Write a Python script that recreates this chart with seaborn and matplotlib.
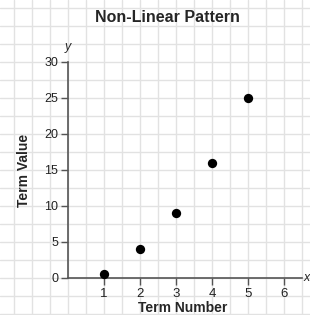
import numpy as np
import pandas as pd
import matplotlib

matplotlib.use("Agg")
import matplotlib.pyplot as plt
import seaborn as sns

# data
term_number = [1, 2, 3, 4, 5]
term_value = [0.5, 4, 9, 16, 25]
x_ticks = [1, 2, 3, 4, 5, 6]
y_ticks = [0, 5, 10, 15, 20, 25, 30]

sns.set_style("white")
plt.rcParams["font.family"] = ["Liberation Sans", "DejaVu Sans"]

W, H = 310, 315
fig = plt.figure(figsize=(W / 100, H / 100), dpi=100)

# graph-paper background over the whole figure (pixel coordinates)
bg = fig.add_axes([0, 0, 1, 1], zorder=0)
bg.set_xlim(0, W)
bg.set_ylim(H, 0)
bg.set_xticks(np.arange(14, W, 18))
bg.set_yticks(np.arange(8, H, 18))
bg.grid(True, color="#e2e2e2", linewidth=1.0)
bg.tick_params(length=0, labelbottom=False, labelleft=False)
for s in bg.spines.values():
    s.set_visible(False)

# main axes: origin at px (68, 278), 36 px per x unit, 36 px per 5 y units
left, bottom = 68 / W, (H - 278) / H
ax = fig.add_axes([left, bottom, 234 / W, 216 / H], zorder=1)
ax.patch.set_alpha(0)

df = pd.DataFrame({"n": term_number, "v": term_value})
sns.scatterplot(data=df, x="n", y="v", ax=ax, color="black", s=45,
                edgecolor="black", linewidth=0, clip_on=False, zorder=3)

ax.set_xlim(0, 6.5)
ax.set_ylim(0, 30)
ax.set_xticks(x_ticks)
ax.set_yticks(y_ticks)
for s in ["top", "right"]:
    ax.spines[s].set_visible(False)
for s in ["left", "bottom"]:
    ax.spines[s].set_color("#555555")
    ax.spines[s].set_linewidth(1.2)
ax.tick_params(axis="both", bottom=True, left=True, direction="out", length=5,
               width=1, color="#555555", labelcolor="#222222", pad=2)
ax.tick_params(axis="x", labelsize=9.5)
ax.tick_params(axis="y", labelsize=9)

ax.set_xlabel("Term Number", fontsize=10, fontweight="bold")
ax.set_ylabel("Term Value", fontsize=10, fontweight="bold")
ax.xaxis.set_label_coords(0.49, -0.105)
ax.yaxis.set_label_coords(-0.16, 0.5)

ax.text(6.55, 0, "x", fontsize=9, style="italic", ha="left", va="center",
        clip_on=False)
ax.text(0, 31.2, "y", fontsize=9, style="italic", ha="center", va="bottom",
        clip_on=False)

fig.text(167 / W, 1 - 17 / H, "Non-Linear Pattern", fontsize=11.5,
         fontweight="bold", ha="center", va="center")

fig.savefig("out.png", dpi=100)
plt.close(fig)
